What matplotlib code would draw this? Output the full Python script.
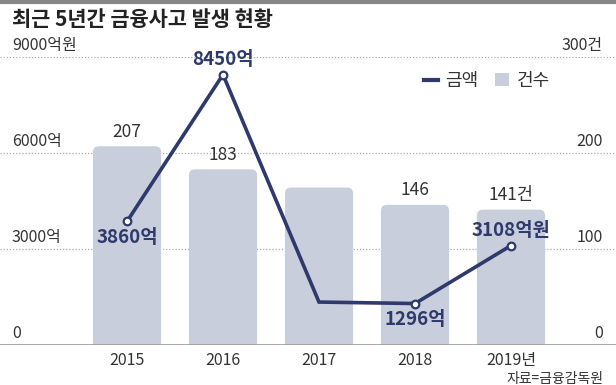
import matplotlib
matplotlib.use("Agg")
import matplotlib.pyplot as plt
from matplotlib.patches import FancyBboxPatch
from matplotlib.lines import Line2D
from matplotlib.patches import Patch

plt.rcParams['font.family'] = ['Noto Sans CJK KR', 'DejaVu Sans']

years = ["2015", "2016", "2017", "2018", "2019년"]
counts = [207, 183, 164, 146, 141]
count_labels = ["207", "183", "", "146", "141건"]
amounts = [3860, 8450, 1342, 1296, 3108]
amount_labels = ["3860억", "8450억", "", "1296억", "3108억원"]
amount_label_pos = ["below", "above", "", "below", "above"]
marker_shown = [True, True, False, True, True]
left_ticks = [0, 3000, 6000, 9000]
left_tick_labels = ["0", "3000억", "6000억", "9000억원"]
right_ticks = [0, 100, 200, 300]
right_tick_labels = ["0", "100", "200", "300건"]

W, H = 616, 385
fig = plt.figure(figsize=(W / 100, H / 100), dpi=100)
fig.patch.set_facecolor("white")

bar_color = "#c9cedd"
navy = "#2e3a6c"
text_color = "#333333"

y0_px, y300_px = 345, 57
ax = fig.add_axes([0, (H - y0_px) / H, 1, (y0_px - y300_px) / H])
x0_px, dx_px = 127, 96
xs = list(range(len(years)))
ax.set_xlim(-x0_px / dx_px, (W - x0_px) / dx_px)
ax.set_ylim(0, 300)
ax.axis("off")

# grid lines
for t in right_ticks[1:]:
    ax.axhline(t, color="#aaaaaa", lw=0.9, ls=(0, (1, 1.5)), zorder=0)
ax.axhline(0, color="#999999", lw=1.2, zorder=5)

# bars with rounded tops
bars = ax.bar(xs, counts, width=0.71, color=bar_color, zorder=1)
r_x = 6 / dx_px
px_per_unit = (y0_px - y300_px) / 300
r_y = 6 / px_per_unit
for b in bars:
    x, w, h = b.get_x(), b.get_width(), b.get_height()
    b.set_visible(False)
    fp = FancyBboxPatch((x, -20), w, h + 20,
                        boxstyle=f"round,pad=0,rounding_size={r_x}",
                        mutation_aspect=r_y / r_x,
                        facecolor=bar_color, edgecolor="none", zorder=1)
    ax.add_patch(fp)

for x, c, lab in zip(xs, counts, count_labels):
    if lab:
        ax.annotate(lab, (x, c), xytext=(0, 4), textcoords="offset points",
                    ha="center", va="bottom", fontsize=12.5, color=text_color)

ax2 = ax.twinx()
ax2.set_ylim(0, 9000)
ax2.axis("off")
ax2.plot(xs, amounts, color=navy, lw=2.6, zorder=3, solid_joinstyle="miter")
mx = [x for x, m in zip(xs, marker_shown) if m]
my = [a for a, m in zip(amounts, marker_shown) if m]
ax2.plot(mx, my, ls="none", marker="o", ms=5.5, mfc="white", mec=navy, mew=1.6, zorder=4)
for x, a, lab, pos in zip(xs, amounts, amount_labels, amount_label_pos):
    if not lab:
        continue
    if pos == "above":
        ax2.annotate(lab, (x, a), xytext=(0, 4), textcoords="offset points",
                     ha="center", va="bottom", fontsize=13.5, color=navy,
                     fontweight="bold", zorder=6)
    else:
        ax2.annotate(lab, (x, a), xytext=(0, -5), textcoords="offset points",
                     ha="center", va="top", fontsize=13.5, color=navy,
                     fontweight="bold", zorder=6)

# axis tick labels (left & right)
for t, lab in zip(left_ticks, left_tick_labels):
    ax2.annotate(lab, (ax2.get_xlim()[0], t), xytext=(12, 3), textcoords="offset pixels",
                 ha="left", va="bottom", fontsize=11.5, color=text_color)
for t, lab in zip(right_ticks, right_tick_labels):
    ax.annotate(lab, (ax.get_xlim()[1], t), xytext=(-13, 3), textcoords="offset pixels",
                ha="right", va="bottom", fontsize=11.5, color=text_color)

for x, lab in zip(xs, years):
    ax.annotate(lab, (x, 0), xytext=(0, -7), textcoords="offset pixels",
                ha="center", va="top", fontsize=11.5, color=text_color)

# title, border, source
fig.add_artist(Line2D([0, 1], [1 - 1.5 / H, 1 - 1.5 / H], transform=fig.transFigure,
                      color="#888888", lw=3))
fig.text(12 / W, 1 - 20 / H, "최근 5년간 금융사고 발생 현황", ha="left", va="center",
         fontsize=15, fontweight="bold", color="#222222")
fig.text(603 / W, 1 - 379 / H, "자료=금융감독원", ha="right", va="center",
         fontsize=10, color=text_color)

handles = [Line2D([], [], color=navy, lw=3),
           Patch(facecolor=bar_color, edgecolor="none")]
fig.legend(handles, ["금액", "건수"], loc="center", bbox_to_anchor=(487 / W, 1 - 81 / H),
           ncol=2, frameon=False, fontsize=13, handlelength=0.75, handleheight=0.75,
           handletextpad=0.45, columnspacing=0.9, labelcolor=text_color)

fig.savefig("out.png", dpi=100, facecolor="white")
